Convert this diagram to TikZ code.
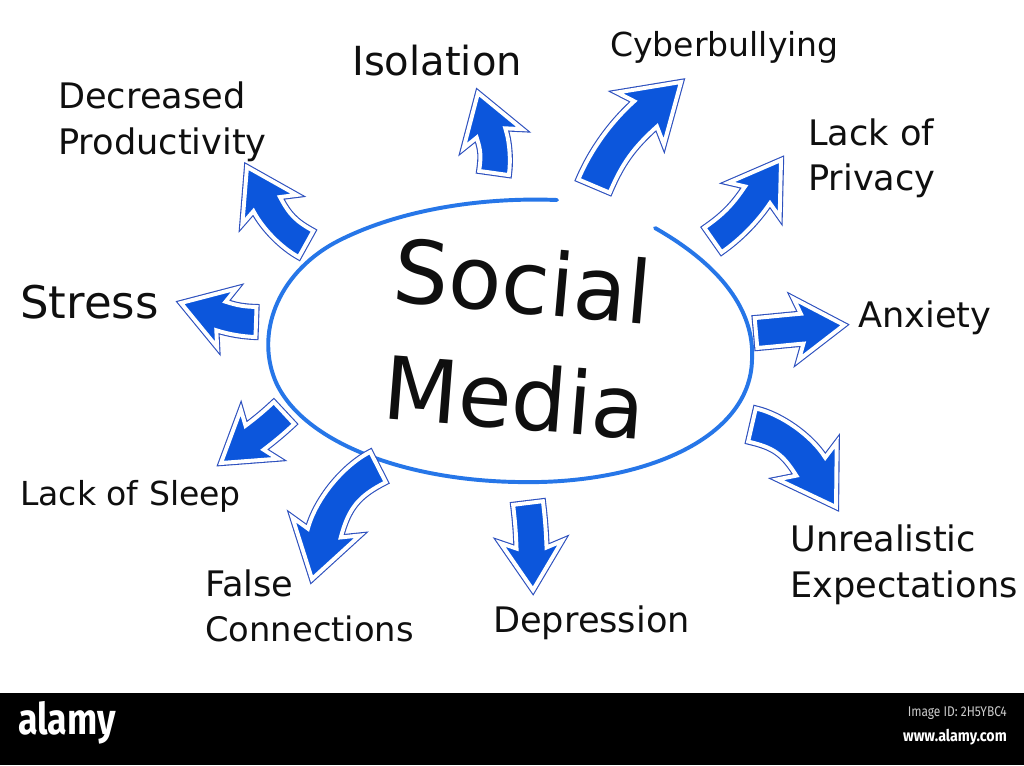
\documentclass[tikz,border=0pt]{standalone}
\usepackage{fontspec}
\setmainfont{DejaVu Sans}
\newfontfamily\bannerfont{Fira Sans}
\usetikzlibrary{calc}
\definecolor{arrowblue}{RGB}{12,86,220}
\definecolor{arrowline}{RGB}{45,80,190}
\definecolor{ringblue}{RGB}{38,118,232}
\definecolor{inkblack}{RGB}{15,15,15}
\tikzset{
  arrowout/.style={draw=arrowline,line width=4.4pt,line join=miter},
  arrowin/.style={draw=white,line width=2.8pt,fill=arrowblue,line join=miter},
  ring/.style={draw=ringblue,line width=2.8pt,line cap=round},
  lbl/.style={anchor=base west,inner sep=0pt,text=inkblack,font=\fontsize{25}{30}\selectfont},
  bigtext/.style={anchor=base,inner sep=0pt,text=inkblack,font=\fontsize{62}{70}\selectfont},
}
% tipx, tipy, head angle, tailx, taily, tail angle, half shaft width
\newcommand\blockarrow[7]{%
  \coordinate (T) at (#1,-#2);
  \coordinate (A) at (#4,-#5);
  \coordinate (H) at ($(T)+({#3+180}:{2.8*#7})$);
  \coordinate (h1) at ($(H)+({#3-90}:#7)$);
  \coordinate (h2) at ($(H)+({#3+90}:#7)$);
  \coordinate (w1) at ($(H)+({#3-90}:{2.05*#7})+({#3+180}:{0.4*#7})$);
  \coordinate (w2) at ($(H)+({#3+90}:{2.05*#7})+({#3+180}:{0.4*#7})$);
  \coordinate (a1) at ($(A)+({#6-90}:#7)$);
  \coordinate (a2) at ($(A)+({#6+90}:#7)$);
  \path let \p1=($(H)-(A)$), \n1={0.36*veclen(\x1,\y1)} in
    ($(a1)+(#6:\n1)$) coordinate (c1)
    ($(a2)+(#6:\n1)$) coordinate (c2)
    ($(h1)+({#3+180}:\n1)$) coordinate (d1)
    ($(h2)+({#3+180}:\n1)$) coordinate (d2);
  \draw[arrowout] (a1) .. controls (c1) and (d1) .. (h1) -- (w1) -- (T) -- (w2) -- (h2) .. controls (d2) and (c2) .. (a2) -- cycle;
  \draw[arrowin] (a1) .. controls (c1) and (d1) .. (h1) -- (w1) -- (T) -- (w2) -- (h2) .. controls (d2) and (c2) .. (a2) -- cycle;
}
\begin{document}
\begin{tikzpicture}[x=0.025cm,y=0.025cm]
\useasboundingbox (0,0) rectangle (1024,-765);
\fill[white] (0,0) rectangle (1024,-693);

% central ring
\draw[ring] (655,-228) .. controls (720,-265) and (755,-310) .. (752,-360)
  .. controls (750,-440) and (640,-485) .. (517,-482)
  .. controls (400,-480) and (300,-440) .. (275,-380)
  .. controls (255,-330) and (280,-270) .. (340,-240)
  .. controls (400,-210) and (480,-197) .. (557,-200);

\node[bigtext,rotate=-5] (social) at (520,-313) {Social};
\node[bigtext,rotate=-4.5] (media) at (512,-429) {Media};

% arrows
\blockarrow{478}{93}{108}{494}{173}{82}{15}
\blockarrow{681}{82}{42}{594}{186}{67}{17}
\blockarrow{781}{160}{56}{713}{240}{35}{15}
\blockarrow{844}{325}{5}{756}{333}{5}{15}
\blockarrow{836}{507}{-58}{752}{425}{-13}{17}
\blockarrow{533}{590}{-88}{528}{503}{-83}{15}
\blockarrow{312}{579}{-105}{378}{467}{-153}{17}
\blockarrow{221}{463}{-143}{284}{413}{-137}{15}
\blockarrow{181}{303}{162}{256}{322}{178}{15}
\blockarrow{247}{167}{118}{306}{244}{151}{15}

% labels
\node[lbl,font=\fontsize{28.5}{34}\selectfont] (iso) at (352,-75) {Isolation};
\node[lbl,font=\fontsize{23.5}{28}\selectfont] (cyber) at (610,-56) {Cyberbullying};
\node[lbl] (dec1) at (58,-108) {Decreased};
\node[lbl] (dec2) at (58,-154) {Productivity};
\node[lbl] (priv1) at (808,-145) {Lack of};
\node[lbl] (priv2) at (808,-190) {Privacy};
\node[lbl,font=\fontsize{32}{36}\selectfont] (stress) at (20,-318) {Stress};
\node[lbl] (anx) at (858,-327) {Anxiety};
\node[lbl,font=\fontsize{23.5}{28}\selectfont] (sleep) at (20,-505) {Lack of Sleep};
\node[lbl] (unr1) at (790,-551) {Unrealistic};
\node[lbl] (unr2) at (790,-597) {Expectations};
\node[lbl] (false1) at (205,-596) {False};
\node[lbl,font=\fontsize{24}{28}\selectfont] (false2) at (205,-641) {Connections};
\node[lbl] (dep) at (493,-632) {Depression};

% banner
\fill[black] (0,-693) rectangle (1024,-765);
\node[anchor=west,inner sep=0pt,text=white,font=\bannerfont\bfseries\fontsize{31}{31}\selectfont,xscale=0.82] (alamy) at (18,-723) {alamy};
\node[anchor=east,inner sep=0pt,text=white!80!black,font=\bannerfont\fontsize{10}{12}\selectfont,xscale=0.85] (imgid) at (1007,-713) {Image ID: 2H5YBC4};
\node[anchor=east,inner sep=0pt,text=white,font=\bannerfont\bfseries\fontsize{11.5}{13}\selectfont,xscale=0.88] (www) at (1007,-737) {www.alamy.com};
\end{tikzpicture}
\end{document}
